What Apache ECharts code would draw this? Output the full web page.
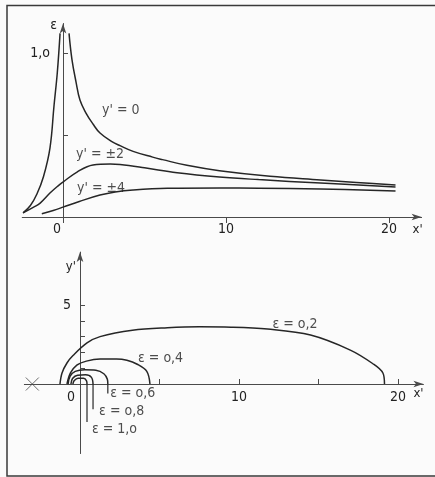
<!DOCTYPE html>
<html>
<head>
<meta charset="utf-8">
<script src="https://cdn.jsdelivr.net/npm/echarts@6/dist/echarts.min.js"></script>
<style>
  html, body { margin: 0; padding: 0; background: #fbfbfb; }
  #chart { width: 435px; height: 477px; }
</style>
</head>
<body>
<div id="chart"></div>
<script>
// oben: epsilon ueber x' fuer y' = 0, +-2, +-4
var epsY0 = [[-2.45,0.025],[-2.0,0.07],[-1.6,0.14],[-1.2,0.245],[-0.8,0.42],[-0.55,0.68],[-0.35,0.88],[-0.18,1.12]];
var epsY0r = [[0.37,1.12],[0.55,0.96],[0.8,0.823],[1.04,0.713],[1.41,0.634],[1.84,0.567],[2.27,0.512],[3.0,0.46],[3.5,0.435],[4.3,0.4],[5.5,0.365],[6.1,0.35],[7.6,0.315],[9.6,0.282],[12.7,0.248],[15.8,0.226],[18,0.211],[20.4,0.195]];
var epsY2 = [[-2.45,0.025],[-1.8,0.06],[-1.4,0.085],[-0.8,0.146],[-0.3,0.19],[0,0.213],[0.86,0.274],[1.84,0.317],[2.9,0.323],[3.5,0.32],[5,0.3],[7,0.27],[9.6,0.244],[12,0.228],[15.8,0.207],[20.4,0.183]];
var epsY4 = [[-1.3,0.02],[-0.6,0.04],[0,0.06],[1,0.095],[2.27,0.134],[3.2,0.153],[4.3,0.165],[6.4,0.175],[9.6,0.177],[12,0.176],[15.8,0.171],[20.4,0.159]];
var topLabels = ["y' = 0", "y' = ±2", "y' = ±4"];
var topLabelPos = [[2.4,0.65],[0.8,0.38],[0.86,0.177]];

// unten: Kurven konstanten epsilon in der x'-y'-Ebene
var c02 = [[-1.26,0],[-1.13,0.7],[-0.82,1.33],[-0.44,1.8],[0.44,2.6],[1.26,3.0],[3.3,3.4],[5.5,3.56],[7.5,3.62],[9.5,3.6],[11.8,3.48],[14.5,3.1],[17,2.15],[18.4,1.3],[19.05,0.7],[19.15,0]];
var c04 = [[-0.82,0],[-0.6,0.7],[-0.2,1.2],[0.4,1.45],[1.26,1.58],[2.3,1.58],[2.95,1.5],[3.6,1.25],[4.2,0.8],[4.4,0]];
var c06 = [[-0.75,0],[-0.62,0.5],[-0.3,0.8],[0.3,0.9],[1.0,0.87],[1.5,0.65],[1.72,0.3],[1.75,0]];
var c08 = [[-0.57,0],[-0.47,0.35],[-0.15,0.56],[0.35,0.58],[0.72,0.42],[0.82,0]];
var c10 = [[-0.45,0],[-0.36,0.22],[-0.12,0.37],[0.22,0.36],[0.41,0.2],[0.44,0]];
var leader06 = [[1.75,0],[1.75,-0.6]];
var leader08 = [[0.82,0],[0.82,-1.6]];
var leader10 = [[0.44,0],[0.44,-2.4]];
var botLabels = ["ε = o,2", "ε = o,4", "ε = o,6", "ε = o,8", "ε = 1,o"];
var botLabelPos = [[12.1,3.8],[3.65,1.65],[1.9,-0.57],[1.2,-1.7],[0.75,-2.85]];
var crossPos = [[-3.0,0]];

var FONT = "'Liberation Sans Narrow', 'DejaVu Sans Condensed', 'Roboto', sans-serif";
var INK = '#262626';
var AXIS = '#4a4a4a';
var TXT = '#222';

var chart = echarts.init(document.getElementById('chart'));

function curve(data, xi, sm) {
	return {
		type : 'line',
		xAxisIndex : xi,
		yAxisIndex : xi,
		data : data,
		smooth : sm,
		showSymbol : false,
		lineStyle : { color : INK, width : 1.5 },
		silent : true
	};
}
function straight(data, xi) {
	return {
		type : 'line',
		xAxisIndex : xi,
		yAxisIndex : xi,
		data : data,
		showSymbol : false,
		lineStyle : { color : INK, width : 1.2 },
		silent : true
	};
}
function texts(names, pos, xi) {
	var d = [];
	for (var i = 0; i < names.length; i++) {
		d.push({ name : names[i], value : pos[i] });
	}
	return {
		type : 'scatter',
		xAxisIndex : xi,
		yAxisIndex : xi,
		symbolSize : 0,
		data : d,
		label : {
			show : true,
			position : 'right',
			distance : 0,
			formatter : function(p) { return p.name; },
			fontFamily : FONT,
			fontSize : 14,
			color : TXT
		},
		silent : true
	};
}

// Achsen liegen nicht am Rand des Gitters, daher per offset verschoben
var axisLine = {
	onZero : false,
	symbol : [ 'none', 'arrow' ],
	symbolSize : [ 5, 10 ],
	lineStyle : { color : AXIS, width : 1 }
};

var option = {
	animation : false,
	backgroundColor : '#fbfbfb',
	graphic : [ {
		type : 'rect',
		shape : { x : 7, y : 5.5, width : 460, height : 470.5 },
		style : { fill : 'none', stroke : '#3a3a3a', lineWidth : 1.5 },
		silent : true
	} ],
	grid : [
		{ left : 22.25, top : 23.5, width : 399.35, height : 193.5, outerBoundsMode : 'none' },
		{ left : 24.35, top : 252.1, width : 399.1, height : 201.45, outerBoundsMode : 'none' }
	],
	xAxis : [ {
		gridIndex : 0,
		type : 'value',
		min : -2.5,
		max : 22,
		position : 'bottom',
		axisLine : axisLine,
		splitLine : { show : false },
		axisTick : { customValues : [ 0, 10, 20 ], length : 6, lineStyle : { color : AXIS } },
		axisLabel : {
			customValues : [ 0, 10, 20 ],
			margin : 5,
			formatter : function(v) { return v === 0 ? '{z|0}' : String(v); },
			rich : { z : { padding : [ 0, 12, 0, 0 ], fontFamily : FONT, fontSize : 14, color : TXT } },
			fontFamily : FONT, fontSize : 14, color : TXT
		},
		name : "x'",
		nameLocation : 'end',
		nameGap : -4,
		nameTextStyle : { fontFamily : FONT, fontSize : 13, color : TXT, align : 'center', verticalAlign : 'top', padding : [ 6, 0, 0, 0 ] }
	}, {
		gridIndex : 1,
		type : 'value',
		min : -3.5,
		max : 21.6,
		position : 'bottom',
		offset : -69.55,
		axisLine : axisLine,
		splitLine : { show : false },
		axisTick : { customValues : [ 5, 10, 15, 20 ], length : 5, inside : true, lineStyle : { color : AXIS } },
		axisLabel : {
			customValues : [ 0, 10, 20 ],
			margin : 6,
			formatter : function(v) { return v === 0 ? '{z|0}' : String(v); },
			rich : { z : { padding : [ 0, 18, 0, 0 ], fontFamily : FONT, fontSize : 14, color : TXT } },
			fontFamily : FONT, fontSize : 14, color : TXT
		},
		name : "x'",
		nameLocation : 'end',
		nameGap : -5,
		nameTextStyle : { fontFamily : FONT, fontSize : 13, color : TXT, align : 'center', verticalAlign : 'top', padding : [ 3, 0, 0, 0 ] }
	} ],
	yAxis : [ {
		gridIndex : 0,
		type : 'value',
		min : 0,
		max : 1.18,
		position : 'left',
		offset : -40.75,
		axisLine : axisLine,
		splitLine : { show : false },
		axisTick : { customValues : [ 0.5, 1 ], length : 5, inside : true, lineStyle : { color : AXIS } },
		axisLabel : {
			customValues : [ 1 ],
			margin : 13,
			formatter : function(v) { return '1,o'; },
			fontFamily : FONT, fontSize : 14, color : TXT
		},
		name : 'ε',
		nameLocation : 'end',
		nameGap : -2,
		nameTextStyle : { fontFamily : FONT, fontSize : 14, color : TXT, align : 'right', verticalAlign : 'middle', padding : [ 0, 6, 0, 0 ] }
	}, {
		gridIndex : 1,
		type : 'value',
		min : -4.4,
		max : 8.35,
		position : 'left',
		offset : -55.65,
		axisLine : axisLine,
		splitLine : { show : false },
		axisTick : { customValues : [ 1, 2, 3, 4, 5 ], length : 5, inside : true, lineStyle : { color : AXIS } },
		axisLabel : {
			customValues : [ 5 ],
			margin : 9,
			fontFamily : FONT, fontSize : 14, color : TXT
		},
		name : "y'",
		nameLocation : 'end',
		nameGap : -15,
		nameTextStyle : { fontFamily : FONT, fontSize : 13, color : TXT, align : 'right', verticalAlign : 'middle', padding : [ 0, 4, 0, 0 ] }
	} ],
	series : [
		curve(epsY0, 0, 0.4),
		curve(epsY0r, 0, 0.4),
		curve(epsY2, 0, 0.4),
		curve(epsY4, 0, 0.4),
		texts(topLabels, topLabelPos, 0),
		curve(c02, 1, 0.35),
		curve(c04, 1, 0.35),
		curve(c06, 1, 0.35),
		curve(c08, 1, 0.35),
		curve(c10, 1, 0.35),
		straight(leader06, 1),
		straight(leader08, 1),
		straight(leader10, 1),
		texts(botLabels, botLabelPos, 1),
		{
			type : 'scatter',
			xAxisIndex : 1,
			yAxisIndex : 1,
			data : crossPos,
			symbol : 'path://M0,0L12,12M12,0L0,12',
			symbolSize : 13,
			itemStyle : { color : 'none', borderColor : AXIS, borderWidth : 1 },
			silent : true
		}
	]
};
chart.setOption(option);
</script>
</body>
</html>
